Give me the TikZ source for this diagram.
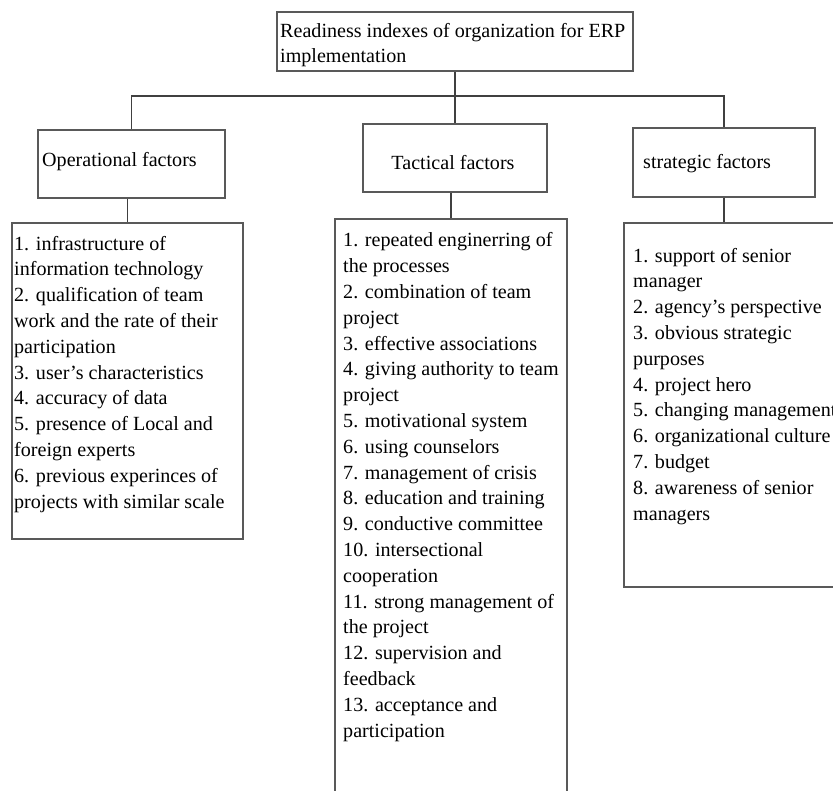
\documentclass[tikz,border=0pt]{standalone}
\usepackage{fontspec}
\setmainfont{Liberation Serif}
\usepackage{xcolor}
\definecolor{boxgray}{rgb}{0.35, 0.35, 0.35}
\definecolor{linegray}{rgb}{0.25, 0.25, 0.25}

\tikzset{
  box/.style={draw=boxgray, line width=1.6pt, inner sep=0pt, fill=white},
  boxtext/.style={inner sep=0pt, align=left, text=black,
    font=\fontsize{20.1}{25.8}\selectfont},
  link/.style={draw=linegray, line width=1.3pt}
}

\begin{document}
\begin{tikzpicture}[x=1pt, y=-1pt]
    \clip (0, 0) rectangle (833, 791);
    \fill[white] (0, 0) rectangle (833, 791);

    % Top box
    \node[box, minimum width=356pt, minimum height=59pt] (readiness) at (455, 41.5) {};
    \node[boxtext, anchor=base west] (readinesstext) at (280, 63) {Readiness indexes of organization for ERP\\implementation};

    % Factor boxes
    \node[box, minimum width=187pt, minimum height=68pt] (operational) at (131.5, 164) {};
    \node[boxtext, anchor=base west] (operationaltext) at (42, 167) {Operational factors};

    \node[box, minimum width=184pt, minimum height=68pt] (tactical) at (455, 158) {};
    \node[boxtext, anchor=base] (tacticaltext) at (453, 170) {Tactical factors};

    \node[box, minimum width=182pt, minimum height=69pt] (strategic) at (724, 162.5) {};
    \node[boxtext, anchor=base west] (strategictext) at (643, 169) {strategic factors};

    % Lists
    \node[box, minimum width=231pt, minimum height=316pt] (operationallist) at (127.5, 381) {};
    \node[boxtext, anchor=base west] (operationalitems) at (14, 508) {1. infrastructure of\\information technology\\2. qualification of team\\work and the rate of their\\participation\\3. user's characteristics\\4. accuracy of data\\5. presence of Local and\\foreign experts\\6. previous experinces of\\projects with similar scale};

    \node[box, minimum width=232pt, minimum height=600pt] (tacticallist) at (451, 519) {};
    \node[boxtext, anchor=base west] (tacticalitems) at (343, 737) {1. repeated enginerring of\\the processes\\2. combination of team\\project\\3. effective associations\\4. giving authority to team\\project\\5. motivational system\\6. using counselors\\7. management of crisis\\8. education and training\\9. conductive committee\\10. intersectional\\cooperation\\11. strong management of\\the project\\12. supervision and\\feedback\\13. acceptance and\\participation};

    \node[box, minimum width=240pt, minimum height=364pt] (strategiclist) at (744, 405) {};
    \node[boxtext, anchor=base west] (strategicitems) at (633, 520) {1. support of senior\\manager\\2. agency's perspective\\3. obvious strategic\\purposes\\4. project hero\\5. changing management\\6. organizational culture\\7. budget\\8. awareness of senior\\managers};

    % Connectors
    \coordinate (bus) at (455, 96);
    \draw[link] (operational.north) |- (bus) -| (strategic.north);
    \draw[link] (readiness.south) -- (tactical.north);
    \draw[link] (operational.south -| operationallist.north) -- (operationallist.north);
    \draw[link] (tactical.south -| tacticallist.north) -- (tacticallist.north);
    \draw[link] (strategic.south) -- (strategic.south |- strategiclist.north);
\end{tikzpicture}
\end{document}
